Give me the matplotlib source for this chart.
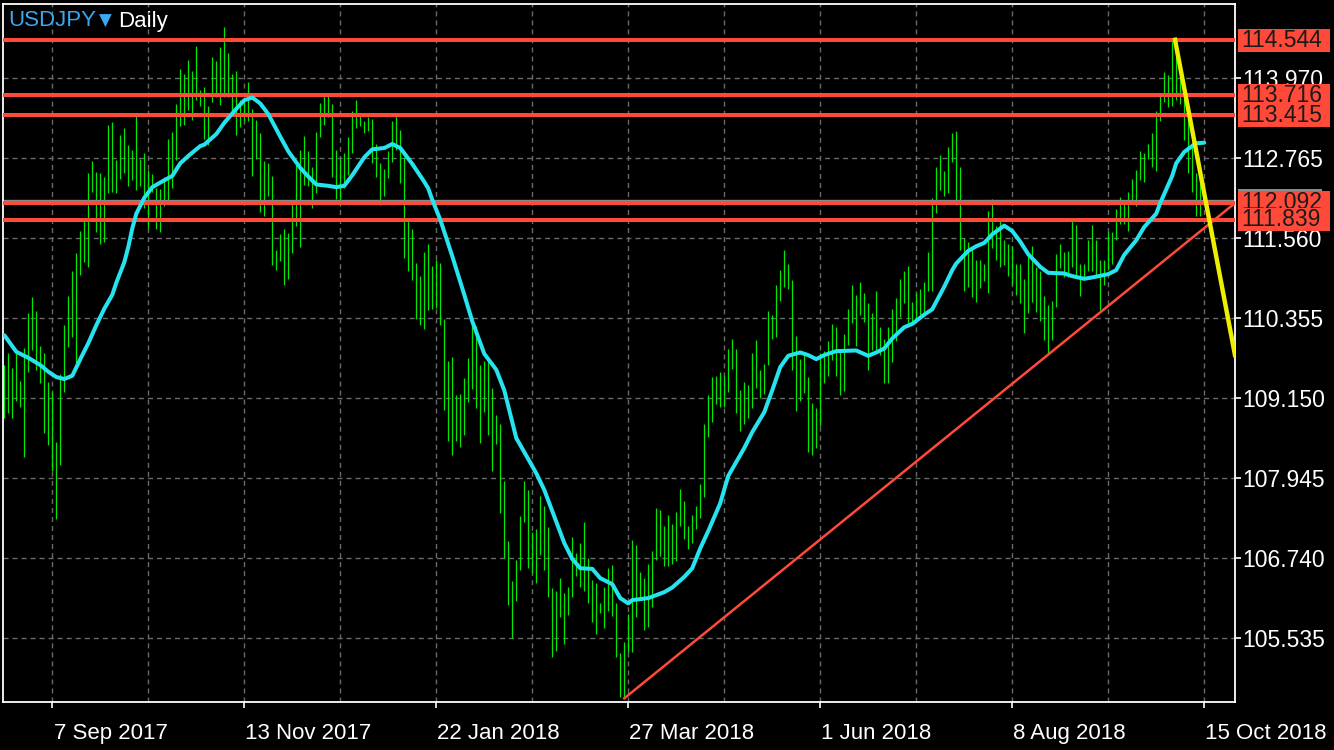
import matplotlib
matplotlib.use("Agg")
import matplotlib.pyplot as plt
from matplotlib.patches import Rectangle
from matplotlib.transforms import blended_transform_factory

plt.rcParams["font.family"] = ["Liberation Sans", "DejaVu Sans"]

# USDJPY daily bars, index 0 = first bar on screen (late Aug 2017)
highs = [
    109.65, 109.83, 109.60, 109.86, 109.41, 109.90, 110.44, 110.67, 110.46, 109.94,
    109.83, 109.40, 109.25, 108.49, 109.51, 110.25, 110.69, 111.06, 111.34, 111.67,
    111.82, 112.55, 112.73, 112.56, 112.55, 112.49, 113.27, 113.31, 112.74, 113.12,
    113.22, 112.97, 112.89, 113.40, 112.76, 112.84, 112.59, 112.53, 112.31, 112.30,
    112.49, 113.06, 113.16, 113.58, 114.11, 114.03, 114.25, 114.08, 114.46, 113.80,
    113.84, 113.55, 114.29, 114.23, 114.44, 114.75, 114.35, 114.03, 114.08, 113.64,
    113.64, 113.92, 113.50, 113.34, 113.15, 112.72, 112.70, 112.50, 111.38, 111.62,
    111.70, 111.64, 112.14, 112.66, 112.89, 113.10, 112.87, 112.63, 113.16, 113.60,
    113.71, 113.71, 113.58, 112.89, 112.75, 112.84, 113.09, 113.48, 113.64, 113.40,
    113.33, 113.39, 113.36, 112.98, 112.69, 112.61, 112.87, 113.32, 113.41, 113.19,
    112.79, 111.84, 111.70, 111.19, 110.99, 111.35, 111.48, 111.14, 111.23, 111.19,
    110.34, 109.71, 109.77, 109.20, 109.21, 109.45, 109.76, 110.31, 110.24, 109.65,
    109.71, 109.77, 109.31, 108.90, 108.77, 107.90, 107.00, 106.40, 106.72, 107.38,
    107.90, 107.77, 107.13, 107.18, 107.68, 107.53, 107.21, 106.29, 106.24, 106.45,
    106.21, 106.30, 107.06, 106.82, 106.97, 107.28, 106.74, 106.41, 106.36, 106.06,
    106.30, 106.60, 106.64, 106.06, 105.32, 105.48, 105.90, 107.02, 106.94, 106.54,
    106.45, 106.65, 106.85, 107.50, 107.47, 107.22, 107.39, 107.26, 107.44, 107.78,
    107.60, 107.22, 107.39, 107.52, 107.86, 108.76, 109.20, 109.47, 109.48, 109.54,
    109.48, 109.89, 110.04, 109.89, 109.27, 109.39, 109.35, 109.83, 110.03, 109.58,
    109.66, 110.47, 110.40, 110.86, 111.08, 111.39, 111.18, 110.93, 110.09, 109.74,
    109.80, 109.47, 109.08, 109.01, 109.83, 109.86, 110.01, 110.27, 110.22, 109.88,
    110.12, 110.49, 110.86, 110.71, 110.90, 110.73, 110.58, 110.44, 110.77, 110.23,
    110.04, 110.22, 110.49, 110.66, 110.95, 111.07, 111.15, 110.60, 110.73, 110.80,
    110.90, 111.35, 112.17, 112.64, 112.81, 112.58, 112.94, 113.14, 113.17, 112.63,
    111.56, 111.51, 111.41, 111.24, 111.24, 111.17, 111.97, 112.15, 111.75, 111.84,
    111.53, 111.48, 111.44, 111.18, 111.17, 110.94, 111.33, 111.44, 111.13, 111.06,
    110.69, 110.56, 110.62, 111.32, 111.48, 111.36, 111.37, 111.85, 111.76, 111.18,
    111.18, 111.53, 111.76, 111.53, 111.24, 111.24, 111.66, 111.66, 112.00, 112.18,
    112.08, 112.25, 112.45, 112.59, 112.87, 112.84, 112.98, 113.14, 113.48, 113.70,
    114.07, 114.02, 114.55, 114.36, 114.05, 113.67, 113.39, 113.01, 112.54, 112.46,
    112.18,
]
lows = [
    108.86, 108.93, 108.86, 109.11, 109.02, 108.27, 109.55, 109.88, 109.57, 109.38,
    108.63, 108.45, 108.06, 107.33, 108.14, 109.25, 109.92, 110.08, 109.68, 111.01,
    111.21, 111.12, 112.26, 111.66, 111.48, 111.51, 112.24, 112.26, 112.24, 112.46,
    112.54, 112.34, 112.44, 112.29, 112.34, 112.01, 111.71, 112.26, 111.70, 111.66,
    112.05, 112.14, 112.31, 112.74, 113.25, 113.26, 113.49, 113.34, 113.65, 113.55,
    113.05, 112.96, 113.62, 113.69, 113.57, 113.69, 113.69, 113.44, 113.11, 113.23,
    113.32, 113.32, 112.50, 112.75, 111.96, 111.90, 112.19, 111.16, 111.08, 111.22,
    110.85, 110.94, 111.34, 111.75, 111.43, 112.37, 112.35, 112.01, 112.24, 113.09,
    113.27, 113.38, 112.49, 112.15, 112.04, 112.31, 112.51, 112.85, 113.22, 113.25,
    113.14, 113.17, 112.69, 112.49, 112.06, 112.19, 112.47, 112.71, 112.89, 112.39,
    111.26, 111.06, 110.93, 110.34, 110.25, 110.20, 110.48, 110.49, 110.51, 110.26,
    108.97, 108.51, 108.29, 108.51, 108.42, 108.60, 109.10, 109.29, 109.00, 108.47,
    108.94, 108.59, 108.06, 108.46, 107.42, 106.74, 106.04, 105.54, 106.10, 106.56,
    107.28, 106.60, 106.52, 106.37, 106.79, 106.56, 106.16, 105.26, 105.35, 105.86,
    105.45, 105.89, 106.16, 106.47, 106.31, 106.25, 106.07, 105.78, 105.60, 105.91,
    105.69, 105.94, 105.87, 105.26, 104.65, 104.63, 105.33, 105.33, 105.86, 106.14,
    105.66, 105.70, 106.00, 106.72, 106.77, 106.63, 106.63, 106.66, 106.70, 107.22,
    107.03, 106.88, 106.97, 107.18, 107.35, 107.67, 108.56, 108.80, 109.06, 109.02,
    109.02, 109.25, 109.59, 108.93, 108.65, 108.77, 108.85, 109.01, 109.31, 109.16,
    109.21, 109.65, 110.04, 110.08, 110.62, 110.83, 110.80, 109.57, 108.96, 109.11,
    109.23, 108.34, 108.30, 108.40, 108.73, 109.38, 109.48, 109.73, 109.48, 109.20,
    109.26, 109.95, 110.28, 109.93, 110.40, 110.30, 109.57, 109.88, 109.88, 109.80,
    109.38, 109.38, 109.69, 110.02, 110.38, 110.59, 110.28, 110.30, 110.35, 110.40,
    110.45, 110.77, 110.77, 111.94, 112.29, 112.20, 112.24, 112.71, 112.06, 111.39,
    110.76, 110.83, 110.68, 110.60, 110.81, 110.91, 110.73, 111.41, 111.23, 111.12,
    111.16, 110.99, 110.85, 110.71, 110.59, 110.13, 110.44, 110.60, 110.45, 110.32,
    110.03, 109.83, 110.03, 110.53, 111.11, 110.98, 110.98, 111.13, 110.98, 110.69,
    110.93, 111.06, 111.06, 110.98, 110.48, 110.86, 111.08, 111.18, 111.53, 111.77,
    111.78, 111.67, 112.14, 112.05, 112.44, 112.41, 112.76, 112.64, 112.58, 113.33,
    113.62, 113.53, 113.55, 113.64, 113.59, 113.04, 112.54, 112.26, 111.89, 111.89,
    112.06,
]

# moving average (cyan) at these bar indices
ma_idx = [0, 3, 6, 9, 11, 13, 15, 17, 19, 21, 23, 25, 27, 28, 30, 31, 32, 33, 35, 37,
          39, 42, 44, 46, 49, 50, 53, 55, 58, 60, 62, 64, 66, 69, 71, 74, 76, 78, 81, 83,
          85, 87, 90, 92, 95, 97, 99, 102, 105, 106, 107, 109, 112, 115, 117, 120, 123, 125, 128, 130,
          133, 135, 137, 140, 142, 144, 147, 149, 152, 154, 156, 157, 161, 165, 167, 170, 172, 174, 176, 179,
          181, 185, 187, 190, 192, 194, 196, 199, 201, 203, 205, 208, 213, 216, 218, 220, 222, 225, 227, 230,
          232, 235, 237, 238, 241, 243, 245, 247, 250, 252, 254, 256, 259, 261, 265, 267, 270, 272, 276, 278,
          280, 283, 285, 288, 289, 292, 293, 295, 297, 298, 300]
ma_val = [110.10, 109.85, 109.76, 109.65, 109.55, 109.47, 109.44, 109.49, 109.74, 109.98,
          110.25, 110.50, 110.71, 110.89, 111.20, 111.43, 111.71, 111.93, 112.17, 112.33,
          112.40, 112.50, 112.69, 112.80, 112.95, 112.97, 113.13, 113.30, 113.51, 113.64,
          113.68, 113.59, 113.43, 113.09, 112.87, 112.62, 112.49, 112.37, 112.35, 112.33,
          112.35, 112.51, 112.78, 112.90, 112.92, 112.98, 112.92, 112.68, 112.41, 112.31,
          112.14, 111.84, 111.29, 110.71, 110.31, 109.82, 109.58, 109.27, 108.55, 108.34,
          108.02, 107.77, 107.45, 106.97, 106.73, 106.59, 106.58, 106.44, 106.35, 106.14,
          106.06, 106.11, 106.14, 106.23, 106.30, 106.46, 106.59, 106.89, 107.15, 107.57,
          107.98, 108.40, 108.64, 108.94, 109.27, 109.62, 109.79, 109.84, 109.80, 109.74,
          109.80, 109.86, 109.87, 109.79, 109.84, 109.90, 110.05, 110.22, 110.27, 110.41,
          110.49, 110.83, 111.08, 111.18, 111.37, 111.44, 111.49, 111.62, 111.75, 111.67,
          111.51, 111.32, 111.13, 111.04, 111.03, 110.99, 110.95, 110.97, 111.02, 111.08,
          111.31, 111.53, 111.73, 111.93, 112.09, 112.50, 112.69, 112.86, 112.95, 112.99,
          113.00]

level_prices = [114.544, 113.716, 113.415, 112.092, 111.839]
level_labels = ["114.544", "113.716", "113.415", "112.092", "111.839"]
bid_price = 112.13

grid_prices = [113.970, 112.765, 111.560, 110.355, 109.150, 107.945, 106.740, 105.535]
grid_labels = ["113.970", "112.765", "111.560", "110.355", "109.150", "107.945", "106.740", "105.535"]

date_ticks = [12, 60, 108, 156, 204, 252, 300]
date_labels = ["7 Sep 2017", "13 Nov 2017", "22 Jan 2018", "27 Mar 2018",
               "1 Jun 2018", "8 Aug 2018", "15 Oct 2018"]
grid_minor = [36, 84, 132, 180, 228, 276]

support_x = [155, 307.7]
support_y = [104.63, 112.09]
resist_x = [292.7, 307.7]
resist_y = [114.55, 109.80]

GREEN = "#00e800"
CYAN = "#25e4f0"
RED = "#ff4a3a"
YELLOW = "#eeee00"
GRID = "#6a6a6a"
BLUE = "#3aa8f0"

W, H = 1334, 750
fig = plt.figure(figsize=(W / 100, H / 100), dpi=100, facecolor="black")
ax = fig.add_axes([3 / W, 48 / H, 1232 / W, 698 / H], facecolor="black")
ax.set_xlim(-0.33, 307.7)
ax.set_ylim(104.575, 115.089)

for s in ax.spines.values():
    s.set_color("white")
    s.set_linewidth(1.3)

# grid + ticks
ax.set_xticks(date_ticks)
ax.set_xticks(grid_minor, minor=True)
ax.set_xticklabels([])
ax.yaxis.tick_right()
ax.set_yticks(grid_prices)
ax.set_yticklabels(grid_labels)
ax.tick_params(axis="x", which="major", colors="white", length=4, width=1.2, direction="out")
ax.tick_params(axis="x", which="minor", length=0)
ax.tick_params(axis="y", colors="white", length=4.3, width=1.2, pad=1.2, labelsize=16.5)
ax.grid(True, which="both", color=GRID, linewidth=1.0, linestyle=(0, (3.6, 2.9)))

for t, lab in zip(date_ticks, date_labels):
    ax.text(t + 0.3, -0.0445, lab, transform=blended_transform_factory(ax.transData, ax.transAxes),
            color="white", fontsize=16, ha="left", va="center")

# price bars
ax.vlines(range(len(highs)), lows, highs, color=GREEN, linewidth=0.9, zorder=2)

# lines
ax.axhline(bid_price, color="#8a8a8a", linewidth=1.0, zorder=2.5)
for p in level_prices:
    ax.axhline(p, color=RED, linewidth=2.9, zorder=3)
ax.plot(support_x, support_y, color=RED, linewidth=1.8, zorder=3)
ax.plot(ma_idx, ma_val, color=CYAN, linewidth=2.9, solid_capstyle="round",
        solid_joinstyle="round", zorder=4)
ax.plot(resist_x, resist_y, color=YELLOW, linewidth=3.2, zorder=5)

# right side price boxes
blend = blended_transform_factory(fig.transFigure, ax.transData)
box_h = 23 / 66.39
ax.add_patch(Rectangle((1238 / W, bid_price - box_h / 2), 84 / W, box_h, transform=blend,
                       facecolor="#8a8a8a", edgecolor="none", clip_on=False, zorder=9))
for i, (p, lab) in enumerate(zip(level_prices, level_labels)):
    ax.add_patch(Rectangle((1238 / W, p - box_h / 2), 92 / W, box_h, transform=blend,
                           facecolor=RED, edgecolor="none", clip_on=False, zorder=10 + 2 * i))
    ax.text(1241 / W, p, lab, transform=blend, color="#1a1a1a", fontsize=16.5,
            ha="left", va="center", zorder=11 + 2 * i, clip_on=False)

# title
fig.text(8 / W, 1 - 21 / H, "USDJPY", color=BLUE, fontsize=16, va="center", ha="left")
fig.text(99 / W, 1 - 21 / H, "\u25bc", color=BLUE, fontsize=12, va="center", ha="left",
         family=["DejaVu Sans"])
fig.text(118 / W, 1 - 21 / H, "Daily", color="white", fontsize=16, va="center", ha="left")

fig.savefig("out.png", dpi=100, facecolor="black")
